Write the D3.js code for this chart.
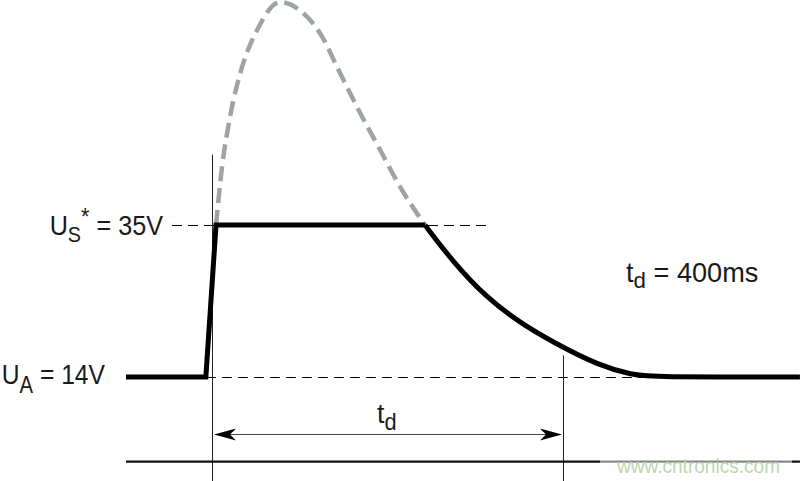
<!DOCTYPE html>
<html>
<head>
<meta charset="utf-8">
<script src="https://cdn.jsdelivr.net/npm/d3@7"></script>
<style>
  html, body { margin: 0; padding: 0; background: #fff; }
  svg { display: block; }
  text { font-family: "Liberation Sans Narrow", "Arial Narrow", "Liberation Sans", sans-serif; fill: #1a1a1a; }
</style>
</head>
<body>
<svg id="chart" width="800" height="481"></svg>
<script>
// ---- data (time in ms, voltage in V) ----
const levelNames = ["US", "UA"];
const levelValues = [35, 14];
const tdValue = 400;

// clamped pulse: rise + plateau
const riseT = [-98, -7, 4.6, 242.7];
const riseV = [14, 14, 35, 35];
// clamped pulse: decay back to UA
const decayT = [242.7, 274.6, 313.4, 351.0, 388.6, 442.2, 479.8, 500, 670];
const decayV = [35, 29.9, 24.9, 21.5, 18.8, 15.5, 14.3, 14, 14];
// unclamped surge (dashed grey)
const surgeT = [4.6, 11.4, 20.5, 34.2, 51.3, 77.5, 103.7, 123.1, 145.9, 168.7, 191.5, 214.2, 237, 242.7];
const surgeV = [35, 43, 49.9, 56.8, 61.9, 65.8, 64.3, 61.5, 56, 50.5, 45.4, 40.3, 36, 35];
// reference line extents
const usLineT = [-45.6, 314.5];
const uaLineT = [-7, 503];
const markerT = [0, 400];
const markerTopV = [44.7, 17.0];
const markerBottomV = -0.4;
const arrowV = 6.1;
const axisV = 2.3;
const axisT = [-98, 670];

const svg = d3.select("#chart");
const x = d3.scaleLinear().domain([0, tdValue]).range([212, 563]);
const y = d3.scaleLinear().domain([14, 35]).range([377, 225]);

const zip = (ts, vs) => ts.map((t, i) => ({ t, v: vs[i] }));

// reference dashed lines
svg.append("line")
  .attr("x1", x(usLineT[0])).attr("x2", x(usLineT[1]))
  .attr("y1", Math.round(y(levelValues[0])) + 0.5).attr("y2", Math.round(y(levelValues[0])) + 0.5)
  .attr("stroke", "#000").attr("stroke-width", 1).attr("stroke-dasharray", "10,6");
svg.append("line")
  .attr("x1", x(uaLineT[0])).attr("x2", x(uaLineT[1]))
  .attr("y1", Math.round(y(levelValues[1])) + 0.5).attr("y2", Math.round(y(levelValues[1])) + 0.5)
  .attr("stroke", "#000").attr("stroke-width", 1).attr("stroke-dasharray", "10,6");

// vertical markers
markerT.forEach((t, i) => {
  const xx = Math.round(x(t)) + 0.5;
  svg.append("line")
    .attr("x1", xx).attr("x2", xx)
    .attr("y1", y(markerTopV[i])).attr("y2", y(markerBottomV))
    .attr("stroke", "#222").attr("stroke-width", 1);
});

// bottom axis line
svg.append("line")
  .attr("x1", x(axisT[0])).attr("x2", x(axisT[1]))
  .attr("y1", y(axisV)).attr("y2", y(axisV))
  .attr("stroke", "#111").attr("stroke-width", 2.2);

// surge curve (dashed grey)
const lineMono = d3.line().x(d => x(d.t)).y(d => y(d.v)).curve(d3.curveMonotoneX);
const lineBasis = d3.line().x(d => x(d.t)).y(d => y(d.v)).curve(d3.curveBasis);
svg.append("path")
  .datum(zip(surgeT, surgeV))
  .attr("d", lineMono)
  .attr("fill", "none").attr("stroke", "#9ea3a7").attr("stroke-width", 4.5)
  .attr("stroke-dasharray", "15,7");

// clamped pulse
const lineLin = d3.line().x(d => x(d.t)).y(d => y(d.v));
svg.append("path")
  .datum(zip(riseT, riseV))
  .attr("d", lineLin)
  .attr("fill", "none").attr("stroke", "#000").attr("stroke-width", 5)
  .attr("stroke-linejoin", "miter");
svg.append("path")
  .datum(zip(decayT, decayV))
  .attr("d", lineBasis)
  .attr("fill", "none").attr("stroke", "#000").attr("stroke-width", 5)
  .attr("stroke-linejoin", "round");

// td arrow
const ay = Math.round(y(arrowV)) + 0.5;
svg.append("line")
  .attr("x1", x(markerT[0]) + 8).attr("x2", x(markerT[1]) - 8)
  .attr("y1", ay).attr("y2", ay)
  .attr("stroke", "#444").attr("stroke-width", 1.2);
const head = "M0,0 L-22,-6 L-16,0 L-22,6 Z";
svg.append("path").attr("d", head)
  .attr("transform", `translate(${x(markerT[1]) - 1},${ay})`).attr("fill", "#000");
svg.append("path").attr("d", head)
  .attr("transform", `translate(${x(markerT[0]) + 2},${ay}) scale(-1,1)`).attr("fill", "#000");

// labels (condensed via horizontal scale)
function label(parts, tx, ty, anchor, sx) {
  const t = svg.append("text").attr("x", 0).attr("y", 0)
    .attr("transform", `translate(${tx},${ty}) scale(${sx},1)`)
    .attr("font-size", 28).attr("text-anchor", anchor || "start");
  parts.forEach(p => {
    const s = t.append("tspan").text(p.s);
    if (p.size) s.attr("font-size", p.size);
    if (p.dy) s.attr("dy", p.dy);
  });
  return t;
}
label([{ s: "U" }, { s: "S", size: 22, dy: 7 }, { s: "*", size: 24, dy: -17 }, { s: " = 35V", dy: 10 }],
  163, y(levelValues[0]) + 10, "end", 0.9);
label([{ s: "U" }, { s: "A", size: 23, dy: 9 }, { s: " = 14V", dy: -9 }],
  105, y(levelValues[1]) + 7, "end", 0.88);
label([{ s: "t" }, { s: "d", size: 23, dy: 6 }, { s: " = 400ms", dy: -6 }],
  626, 282, "start", 0.97);
label([{ s: "t" }, { s: "d", size: 23, dy: 7 }],
  377, 423, "start", 0.95);

// watermark
svg.append("rect").attr("x", 600).attr("y", 450).attr("width", 192).attr("height", 28)
  .attr("fill", "#fff").attr("opacity", 0.5);
svg.append("text").attr("x", 617).attr("y", 473)
  .attr("font-family", "Liberation Sans, Arial, sans-serif")
  .attr("font-size", 20)
  .attr("textLength", 163).attr("lengthAdjust", "spacingAndGlyphs")
  .style("fill", "#b9d8ad")
  .text("www.cntronics.com");
</script>
</body>
</html>
